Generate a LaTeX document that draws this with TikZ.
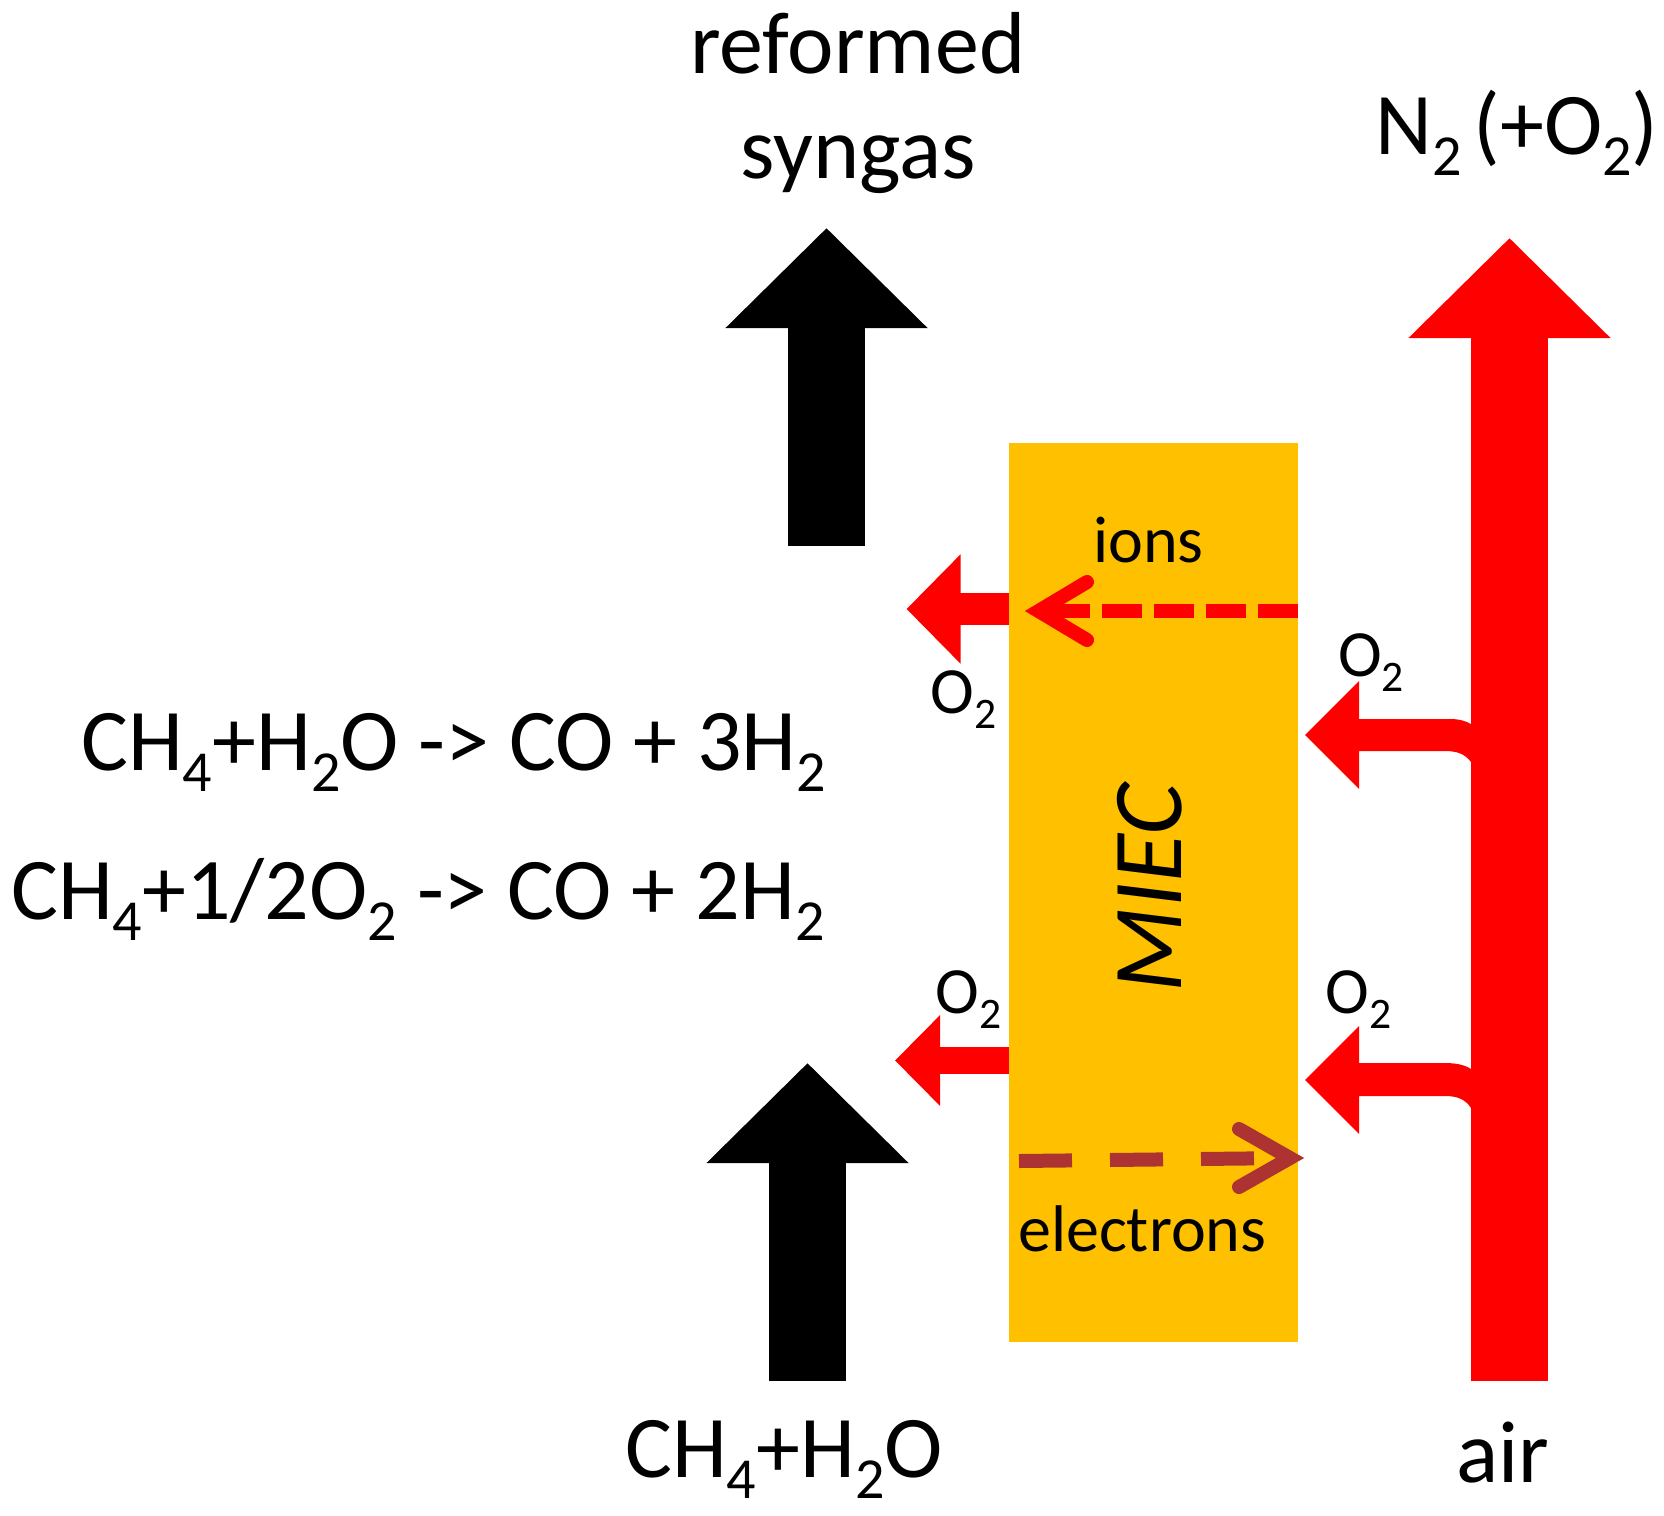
\documentclass[tikz,border=0pt]{standalone}
\usepackage{fontspec}
\setmainfont{Carlito}
\usetikzlibrary{arrows.meta}
\definecolor{miecorange}{HTML}{FFC000}
\definecolor{electronbrown}{HTML}{AD3333}
\newcommand{\subs}[1]{\raisebox{-.24em}{\scalebox{.66}{#1}}}
\begin{document}
\begin{tikzpicture}[
x=1pt,y=-1pt,
miecbox/.style={rectangle,fill=miecorange,minimum width=289pt,minimum height=899pt,inner sep=0pt},
bigtext/.style={anchor=base west,inner sep=0pt,font=\fontsize{88}{100}\selectfont},
midtext/.style={anchor=base west,inner sep=0pt,font=\fontsize{66}{76}\selectfont},
mainflow/.style={line width=77pt,-{Triangle[length=100pt,width=196pt]}},
upperflow/.style={draw=red,line width=32pt,-{Triangle[length=54pt,width=106pt]}},
lowerflow/.style={draw=red,line width=27pt,-{Triangle[length=45pt,width=88pt]}},
carrier/.style={line width=14pt},
barbs/.style={line width=14pt,line cap=round,miter limit=10}
]
\useasboundingbox (0,0) rectangle (1664,1515);

\node[miecbox] (miec) at (1153.5,892) {};
\node[rotate=90,inner sep=0pt,font=\fontsize{99}{110}\selectfont\itshape] (mieclabel) at (1149.5,888) {MIEC};

% big flows
\coordinate (feedin) at (807.5,1381);
\coordinate (feedtip) at (807.5,1063);
\coordinate (syngasin) at (826.5,545.5);
\coordinate (syngastip) at (826.5,228);
\coordinate (airin) at (1509.5,1381);
\coordinate (airtip) at (1509.5,238);
\draw[mainflow,draw=black] (feedin) -- (feedtip);
\draw[mainflow,draw=black] (syngasin) -- (syngastip);
\draw[mainflow,draw=red] (airin) -- (airtip);

% oxygen leaving the membrane
\coordinate (upperout) at (906.5,609);
\coordinate (lowerout) at (895,1060.5);
\draw[upperflow] (miec.west |- upperout) -- (upperout);
\draw[lowerflow] (miec.west |- lowerout) -- (lowerout);

% branches off the air stream
\fill[red] (1305,735) -- (1359,681) -- (1359,719) -- (1450,719)
	.. controls (1459,719) and (1466,721) .. (1471,724) -- (1480,724) -- (1480,762) -- (1471,762)
	.. controls (1465,754) and (1457,751) .. (1445,751) -- (1359,751) -- (1359,789) -- cycle;
\fill[red] (1305,1080) -- (1359,1026) -- (1359,1063) -- (1445,1063)
	.. controls (1456,1063) and (1465,1065) .. (1471,1069) -- (1480,1069) -- (1480,1108) -- (1471,1108)
	.. controls (1465,1099) and (1457,1096) .. (1445,1096) -- (1359,1096) -- (1359,1134) -- cycle;

% ions and electrons
\coordinate (ionstart) at (1298,611);
\coordinate (iontip) at (1038.5,611);
\draw[carrier,draw=red,dash pattern=on 40pt off 12pt] (ionstart) -- (iontip);
\draw[barbs,draw=red] (1087,582) -- (iontip) -- (1087,640);
\coordinate (electronstart) at (1019,1161);
\coordinate (electrontip) at (1290,1158);
\draw[carrier,draw=electronbrown,dash pattern=on 53pt off 38pt] (electronstart) -- (electrontip);
\draw[barbs,draw=electronbrown] (1239,1129) -- (electrontip) -- (1239,1187);

\node[bigtext] (reformed) at (690,73) {reformed};
\node[bigtext,anchor=base] (syngas) at (858.5,178) {syngas};
\node[bigtext] (exhaust) at (1375,154) {N\subs{2}\hspace{.14em}(+O\subs{2})};
\node[bigtext] (feed) at (625,1477) {CH\subs{4}+H\subs{2}O};
\node[bigtext] (air) at (1456,1482) {air};
\node[bigtext] (steam) at (81,770) {CH\subs{4}+H\subs{2}O -> CO + 3H\subs{2}};
\node[bigtext] (partial) at (11,919) {CH\subs{4}+1/2O\subs{2} -> CO + 2H\subs{2}};

\node[midtext] (ions) at (1093,562) {ions};
\node[midtext] (electrons) at (1018,1251) {electrons};
\node[midtext] (otwoa) at (930.5,713) {O\subs{2}};
\node[midtext] (otwob) at (1338,676) {O\subs{2}};
\node[midtext] (otwoc) at (935.5,1013) {O\subs{2}};
\node[midtext] (otwod) at (1325.5,1013) {O\subs{2}};
\end{tikzpicture}
\end{document}
